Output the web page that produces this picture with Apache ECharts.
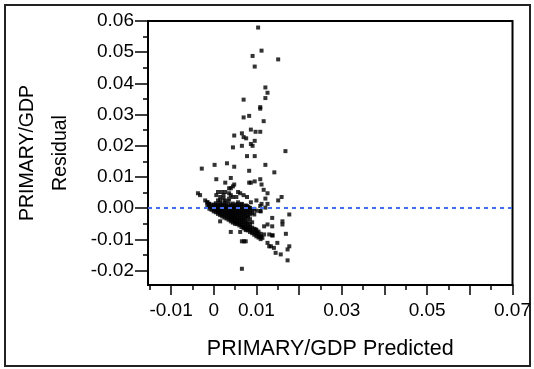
<!DOCTYPE html>
<html>
<head>
<meta charset="utf-8">
<script src="https://cdn.jsdelivr.net/npm/echarts@6/dist/echarts.min.js"></script>
<style>
html,body{margin:0;padding:0;background:#fff;}
#c{width:534px;height:369px;}
</style>
</head>
<body>
<div id="c"></div>
<script>
// Predicted values (x) and residuals (y)
const predicted = [
 0.0104,0.0112,0.0091,0.0151,0.0096,0.0121,0.0126,0.0121,0.0070,0.0109,
 0.0109,0.0070,0.0083,0.0117,0.0087,0.0098,0.0109,0.0048,0.0066,0.0070,
 0.0076,0.0096,0.0087,0.0091,0.0066,0.0045,0.0078,0.0096,0.0168,0.0002,
 0.0031,-0.0028,0.0048,0.0121,0.0083,0.0142,0.0006,0.0109,0.0083,0.0087,
 0.0096,0.0027,0.0040,0.0112,0.0048,0.0045,0.0040,0.0036,0.0117,0.0126,
 0.0027,0.0010,0.0019,0.0006,0.0015,0.0023,0.0036,0.0040,0.0057,0.0062,
 0.0070,0.0078,-0.0037,-0.0032,-0.0020,0.0023,0.0036,0.0045,0.0159,0.0151,
 0.0121,0.0100,0.0015,0.0010,-0.0015,-0.0011,0.0112,0.0126,0.0109,0.0109,
 0.0057,0.0066,0.0078,0.0087,0.0083,0.0121,0.0053,0.0027,
 0.0177,0.0015,0.0040,0.0062,0.0066,0.0071,0.0075,0.0066,0.0118,0.0126,
 0.0137,0.0137,0.0161,0.0161,0.0169,0.0177,0.0173,0.0173,0.0149,0.0145,
 0.0157,0.0134,0.0141,0.0126,0.0130,0.0130,0.0137,0.0098,0.0102,0.0110,
 0.0114,0.0118,0.0110,0.0138,
 -0.0015,-0.0015,
 -0.0010,-0.0010,-0.0010,
 -0.0005,-0.0005,-0.0005,
 0.0000,0.0000,0.0000,0.0000,
 0.0005,0.0005,0.0005,0.0005,0.0005,
 0.0010,0.0010,0.0010,0.0010,0.0010,
 0.0015,0.0015,0.0015,0.0015,0.0015,0.0015,
 0.0020,0.0020,0.0020,0.0020,0.0020,0.0020,
 0.0025,0.0025,0.0025,0.0025,0.0025,0.0025,0.0025,
 0.0030,0.0030,0.0030,0.0030,0.0030,0.0030,0.0030,
 0.0035,0.0035,0.0035,0.0035,0.0035,0.0035,0.0035,0.0035,
 0.0040,0.0040,0.0040,0.0040,0.0040,0.0040,0.0040,0.0040,
 0.0045,0.0045,0.0045,0.0045,0.0045,0.0045,0.0045,0.0045,0.0045,
 0.0050,0.0050,0.0050,0.0050,0.0050,0.0050,0.0050,0.0050,0.0050,
 0.0055,0.0055,0.0055,0.0055,0.0055,0.0055,0.0055,0.0055,0.0055,
 0.0060,0.0060,0.0060,0.0060,0.0060,0.0060,0.0060,0.0060,0.0060,
 0.0065,0.0065,0.0065,0.0065,0.0065,0.0065,0.0065,0.0065,0.0065,0.0065,
 0.0070,0.0070,0.0070,0.0070,0.0070,0.0070,0.0070,0.0070,0.0070,0.0070,
 0.0075,0.0075,0.0075,0.0075,0.0075,0.0075,0.0075,0.0075,0.0075,0.0075,0.0075,
 0.0080,0.0080,0.0080,0.0080,0.0080,0.0080,0.0080,0.0080,0.0080,
 0.0085,0.0085,0.0085,0.0085,0.0085,0.0085,0.0085,0.0085,
 0.0090,0.0090,0.0090,0.0090,0.0090,0.0090,
 0.0095,0.0095,0.0095,0.0095,0.0095,
 0.0100,0.0100,0.0100,0.0100,
 0.0105,0.0105,0.0105,
 0.0110,0.0110,0.0110
];
const residual = [
 0.0579,0.0505,0.0488,0.0477,0.0454,0.0387,0.0370,0.0353,0.0348,0.0324,
 0.0319,0.0291,0.0296,0.0279,0.0252,0.0245,0.0245,0.0233,0.0240,0.0228,
 0.0224,0.0216,0.0206,0.0200,0.0200,0.0195,0.0167,0.0167,0.0183,0.0139,
 0.0144,0.0127,0.0133,0.0139,0.0120,0.0115,0.0093,0.0093,0.0082,0.0082,
 0.0086,0.0082,0.0097,0.0076,0.0076,0.0070,0.0064,0.0064,0.0059,0.0048,
 0.0052,0.0052,0.0052,0.0042,0.0036,0.0042,0.0048,0.0042,0.0052,0.0048,
 0.0042,0.0036,0.0048,0.0042,0.0025,0.0031,0.0031,0.0036,0.0036,0.0025,
 0.0031,0.0025,0.0025,0.0025,0.0019,0.0014,0.0014,0.0014,0.0007,-0.0009,
 0.0019,0.0014,0.0007,0.0019,0.0002,0.0002,0.0036,0.0025,
 -0.0020,-0.0042,-0.0076,-0.0076,-0.0106,-0.0106,-0.0106,-0.0194,-0.0058,-0.0052,
 -0.0031,-0.0058,-0.0042,-0.0052,-0.0082,-0.0122,-0.0132,-0.0167,-0.0111,-0.0143,
 -0.0148,-0.0122,-0.0127,-0.0111,-0.0122,-0.0084,-0.0087,-0.0068,-0.0079,-0.0090,
 -0.0095,-0.0084,-0.0010,-0.0087,
 0.0019,0.0008,
 0.0014,0.0005,-0.0002,
 0.0010,0.0003,-0.0005,
 0.0012,0.0005,-0.0003,-0.0010,
 0.0009,0.0002,-0.0006,-0.0013,0.0016,
 0.0011,0.0003,-0.0004,-0.0011,-0.0018,
 0.0008,0.0000,-0.0008,-0.0015,-0.0022,0.0016,
 0.0012,0.0004,-0.0003,-0.0010,-0.0018,-0.0026,
 0.0009,0.0001,-0.0006,-0.0014,-0.0021,-0.0030,0.0018,
 0.0013,0.0005,-0.0002,-0.0010,-0.0017,-0.0025,-0.0033,
 0.0008,0.0000,-0.0008,-0.0015,-0.0023,-0.0030,-0.0037,0.0022,
 0.0011,0.0003,-0.0004,-0.0012,-0.0020,-0.0027,-0.0035,-0.0042,
 0.0015,0.0006,-0.0001,-0.0009,-0.0017,-0.0025,-0.0032,-0.0040,-0.0046,
 0.0010,0.0002,-0.0006,-0.0014,-0.0022,-0.0030,-0.0038,-0.0045,-0.0050,
 0.0013,0.0004,-0.0003,-0.0011,-0.0019,-0.0028,-0.0036,-0.0043,-0.0051,
 0.0009,0.0001,-0.0008,-0.0016,-0.0024,-0.0032,-0.0040,-0.0048,-0.0055,
 0.0012,0.0003,-0.0005,-0.0013,-0.0021,-0.0030,-0.0038,-0.0046,-0.0053,-0.0060,
 0.0006,-0.0002,-0.0010,-0.0019,-0.0027,-0.0035,-0.0043,-0.0052,-0.0060,-0.0064,
 0.0009,0.0001,-0.0007,-0.0015,-0.0024,-0.0033,-0.0042,-0.0050,-0.0058,-0.0066,-0.0070,
 0.0004,-0.0004,-0.0013,-0.0022,-0.0030,-0.0045,-0.0055,-0.0063,-0.0071,
 0.0001,-0.0010,-0.0020,-0.0035,-0.0050,-0.0060,-0.0068,-0.0076,
 -0.0005,-0.0015,-0.0045,-0.0062,-0.0072,-0.0080,
 -0.0002,-0.0020,-0.0066,-0.0077,-0.0085,
 -0.0008,-0.0070,-0.0082,-0.0090,
 -0.0075,-0.0088,-0.0094,
 -0.0082,-0.0092,-0.0099
];
const xMajorTicks = [-0.01,0,0.01,0.02,0.03,0.04,0.05,0.06,0.07];
const xMinorTicks = [-0.015,-0.005,0.005,0.015,0.025,0.035,0.045,0.055,0.065];
const xTickLabels = [-0.01,0,0.01,0.03,0.05,0.07];
const yMajorTicks = [-0.02,-0.01,0,0.01,0.02,0.03,0.04,0.05,0.06];
const yMinorTicks = [-0.015,-0.005,0.005,0.015,0.025,0.035,0.045,0.055];
const xTitle = 'PRIMARY/GDP Predicted';
const yTitle = 'PRIMARY/GDP\nResidual';

const points = predicted.map((v,i)=>[v,residual[i]]);
const FONT = '"Liberation Sans", Arial, sans-serif';
const chart = echarts.init(document.getElementById('c'));
const X_MIN=-0.0154, X_MAX=0.07, Y_MIN=-0.0246, Y_MAX=0.06;

function tickAxis(kind, min, max, pos, values, len){
  return {
    type:'value',min:min,max:max,position:pos,
    axisLine:{show:false,onZero:false},
    axisTick:{show:true,length:len,lineStyle:{color:'#000',width:1.5},customValues:values},
    axisLabel:{show:false},splitLine:{show:false}
  };
}
chart.setOption({
  animation:false,
  backgroundColor:'#fff',
  graphic:[{type:'rect',shape:{x:5,y:5,width:525,height:361},style:{fill:'none',stroke:'#222',lineWidth:2},z:-1}],
  grid:{left:148,right:21,top:21,bottom:84,show:true,borderColor:'#000',borderWidth:2,backgroundColor:'transparent'},
  xAxis:[{
    type:'value',min:X_MIN,max:X_MAX,position:'bottom',
    name:xTitle,nameLocation:'middle',nameGap:53,
    nameTextStyle:{fontFamily:FONT,fontSize:21.5,color:'#000'},
    axisLine:{show:true,onZero:false,lineStyle:{color:'#000',width:2}},
    axisTick:{show:false},
    axisLabel:{show:true,margin:16,fontFamily:FONT,fontSize:19,color:'#000',customValues:xTickLabels,
      formatter:v=>Math.abs(v)<1e-9?'0':v.toFixed(2)},
    splitLine:{show:false}
  },
  tickAxis('x',X_MIN,X_MAX,'bottom',xMajorTicks,10),
  tickAxis('x',X_MIN,X_MAX,'bottom',xMinorTicks,5)
  ],
  yAxis:[{
    type:'value',min:Y_MIN,max:Y_MAX,position:'left',
    name:yTitle,nameLocation:'middle',nameGap:71,
    nameTextStyle:{fontFamily:FONT,fontSize:19.5,color:'#000',lineHeight:33,align:'center'},
    axisLine:{show:true,onZero:false,lineStyle:{color:'#000',width:2}},
    axisTick:{show:false},
    axisLabel:{show:true,margin:14,fontFamily:FONT,fontSize:19,color:'#000',customValues:yMajorTicks,
      formatter:v=>v.toFixed(2)},
    splitLine:{show:false}
  },
  tickAxis('y',Y_MIN,Y_MAX,'left',yMajorTicks,13),
  tickAxis('y',Y_MIN,Y_MAX,'left',yMinorTicks,5)
  ],
  series:[{
    type:'scatter',xAxisIndex:0,yAxisIndex:0,
    data:points,symbol:'rect',symbolSize:4,
    itemStyle:{color:'#000'},
    markLine:{silent:true,symbol:'none',label:{show:false},
      lineStyle:{color:'#3f6fef',width:2,type:[4,4]},
      data:[{yAxis:0}]}
  }]
});
</script>
</body>
</html>
